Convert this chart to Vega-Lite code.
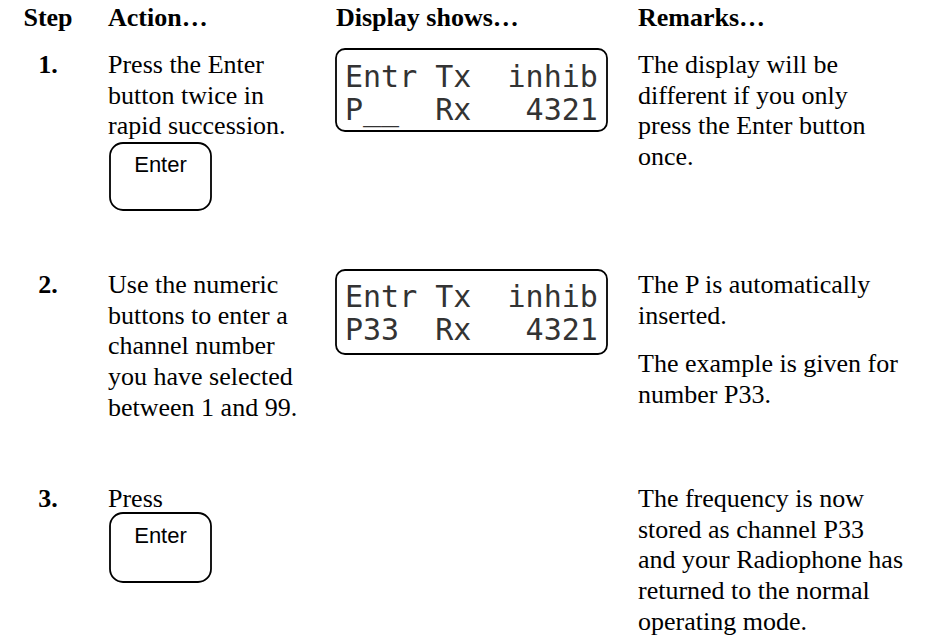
{
  "$schema": "https://vega.github.io/schema/vega-lite/v6.json",
  "width": 934,
  "height": 638,
  "padding": 0,
  "autosize": {"type": "fit", "contains": "padding"},
  "background": "white",
  "config": {"view": {"stroke": null}},
  "datasets": {
    "cells": [
      {"kind": "num", "col": 0, "row": 0, "text": "Step"},
      {"kind": "head", "col": 1, "row": 0, "text": "Action…"},
      {"kind": "head", "col": 5, "row": 0, "text": "Display shows…"},
      {"kind": "head", "col": 8, "row": 0, "text": "Remarks…"},
      {"kind": "num", "col": 0, "row": 2, "text": "1."},
      {"kind": "body", "col": 1, "row": 2, "text": ["Press the Enter", "button twice in", "rapid succession."]},
      {"kind": "key", "col": 3, "row": 6, "text": "Enter"},
      {"kind": "lcd", "col": 6, "row": 3, "text": ["Entr Tx\u00a0\u00a0inhib", "P__\u00a0\u00a0Rx\u00a0\u00a0\u00a04321"]},
      {"kind": "body", "col": 8, "row": 2, "text": ["The display will be", "different if you only", "press the Enter button", "once."]},
      {"kind": "num", "col": 0, "row": 9, "text": "2."},
      {"kind": "body", "col": 1, "row": 9, "text": ["Use the numeric", "buttons to enter a", "channel number", "you have selected", "between 1 and 99."]},
      {"kind": "lcd", "col": 6, "row": 10, "text": ["Entr Tx\u00a0\u00a0inhib", "P33\u00a0\u00a0Rx\u00a0\u00a0\u00a04321"]},
      {"kind": "body", "col": 8, "row": 9, "text": ["The P is automatically", "inserted."]},
      {"kind": "body", "col": 8, "row": 12, "text": ["The example is given for", "number P33."]},
      {"kind": "num", "col": 0, "row": 13, "text": "3."},
      {"kind": "body", "col": 1, "row": 13, "text": ["Press"]},
      {"kind": "key", "col": 3, "row": 15, "text": "Enter"},
      {"kind": "body", "col": 8, "row": 13, "text": ["The frequency is now", "stored as channel P33", "and your Radiophone has", "returned to the normal", "operating mode."]}
    ],
    "frames": [
      {"kind": "display", "step": 1, "col": 5, "col2": 7, "row": 1, "row2": 4},
      {"kind": "key", "step": 1, "col": 2, "col2": 4, "row": 5, "row2": 7},
      {"kind": "display", "step": 2, "col": 5, "col2": 7, "row": 8, "row2": 11},
      {"kind": "key", "step": 3, "col": 2, "col2": 4, "row": 14, "row2": 16}
    ]
  },
  "encoding": {
    "x": {
      "field": "col",
      "type": "quantitative",
      "axis": null,
      "scale": {
        "domain": [0, 1, 2, 3, 4, 5, 6, 7, 8],
        "range": [48, 108, 110, 160.5, 211, 336, 345, 607, 638],
        "zero": false,
        "nice": false
      }
    },
    "y": {
      "field": "row",
      "type": "quantitative",
      "axis": null,
      "scale": {
        "domain": [0, 1, 2, 3, 4, 5, 6, 7, 8, 9, 10, 11, 12, 13, 14, 15, 16],
        "range": [25.5, 49, 73, 87, 131, 143, 172, 210, 270, 293, 307, 354, 372, 507, 513, 543, 582],
        "zero": false,
        "nice": false
      }
    }
  },
  "layer": [
    {
      "data": {"name": "frames"},
      "transform": [{"filter": "datum.kind === 'display'"}],
      "mark": {"type": "rect", "fill": "white", "stroke": "black", "strokeWidth": 1.8, "cornerRadius": 9},
      "encoding": {"x2": {"field": "col2"}, "y2": {"field": "row2"}}
    },
    {
      "data": {"name": "frames"},
      "transform": [{"filter": "datum.kind === 'key'"}],
      "mark": {"type": "rect", "fill": "white", "stroke": "black", "strokeWidth": 1.8, "cornerRadius": 13},
      "encoding": {"x2": {"field": "col2"}, "y2": {"field": "row2"}}
    },
    {
      "data": {"name": "cells"},
      "transform": [{"filter": "datum.kind === 'head'"}],
      "mark": {"type": "text", "font": "Liberation Serif", "fontSize": 26, "fontWeight": "bold", "align": "left", "baseline": "alphabetic", "color": "black"},
      "encoding": {"text": {"field": "text", "type": "nominal"}}
    },
    {
      "data": {"name": "cells"},
      "transform": [{"filter": "datum.kind === 'num'"}],
      "mark": {"type": "text", "font": "Liberation Serif", "fontSize": 26, "fontWeight": "bold", "align": "center", "baseline": "alphabetic", "color": "black"},
      "encoding": {"text": {"field": "text", "type": "nominal"}}
    },
    {
      "data": {"name": "cells"},
      "transform": [{"filter": "datum.kind === 'body'"}],
      "mark": {"type": "text", "font": "Liberation Serif", "fontSize": 26, "lineHeight": 30.7, "align": "left", "baseline": "alphabetic", "color": "black"},
      "encoding": {"text": {"field": "text", "type": "nominal"}}
    },
    {
      "data": {"name": "cells"},
      "transform": [{"filter": "datum.kind === 'lcd'"}],
      "mark": {"type": "text", "font": "DejaVu Sans Mono", "fontSize": 30, "lineHeight": 33, "align": "left", "baseline": "alphabetic", "color": "#333333"},
      "encoding": {"text": {"field": "text", "type": "nominal"}}
    },
    {
      "data": {"name": "cells"},
      "transform": [{"filter": "datum.kind === 'key'"}],
      "mark": {"type": "text", "font": "Liberation Sans", "fontSize": 22, "align": "center", "baseline": "alphabetic", "color": "black"},
      "encoding": {"text": {"field": "text", "type": "nominal"}}
    }
  ]
}
